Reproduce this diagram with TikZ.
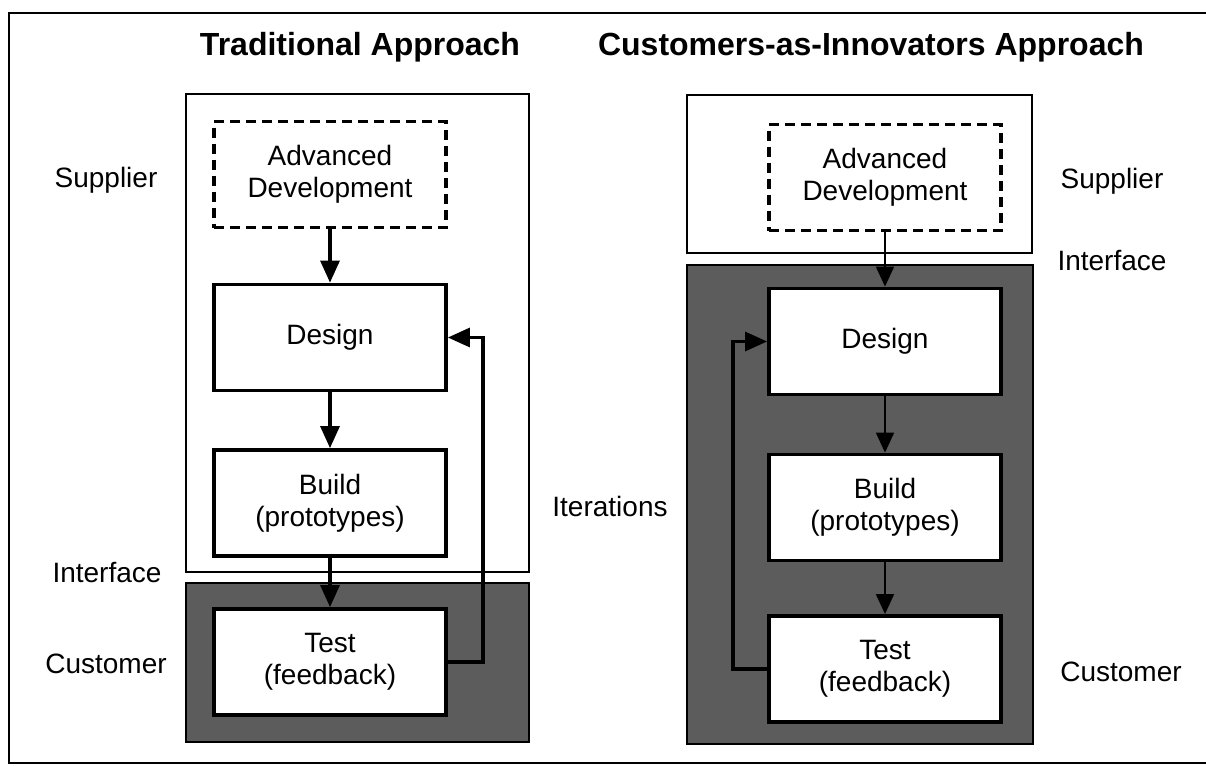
\documentclass[tikz,border=0pt]{standalone}
\usepackage{fontspec}
\setmainfont{Liberation Sans}
\usetikzlibrary{arrows.meta}

\begin{document}
\begin{tikzpicture}[
    x=0.5pt, y=-0.5pt,
    every node/.style={font=\fontsize{14}{16}\selectfont, align=center},
    stage/.style={draw, line width=1.9pt, fill=white,
        minimum width=116pt, minimum height=53pt, inner sep=0pt},
    approach title/.style={font=\fontsize{16}{19}\selectfont\bfseries, anchor=base},
    side label/.style={anchor=base},
    supplier zone/.style={draw, line width=1.1pt, fill=white},
    customer zone/.style={draw, line width=1.3pt, fill=black!64},
    flow/.style={-{Triangle[length=11pt,width=9.5pt]}, line width=1.6pt},
    thin flow/.style={-{Triangle[length=10pt,width=9pt]}, line width=0.9pt},
    ]
    \useasboundingbox (0,0) rectangle (1206,766);
    \draw[line width=1pt] (1206,13) -- (9,13) -- (9,763) -- (1206,763); % frame

    % traditional approach
    \node[approach title] (titleL) at (360,55) {Traditional Approach};
    \draw[supplier zone] (186,94) rectangle (529,572);
    \draw[customer zone] (186,583) rectangle (529,742);
    \node[side label] (supL) at (106,187) {Supplier};
    \node[side label] (intL) at (107,582) {Interface};
    \node[side label] (cusL) at (106,673) {Customer};
    \node[stage, dashed, dash pattern=on 5pt off 3pt] (advL) at (330,174.5) {Advanced\\Development};
    \node[stage] (desL) at (330,337.5) {Design};
    \node[stage] (bldL) at (330,503) {Build\\(prototypes)};
    \node[stage] (tstL) at (330,662) {Test\\(feedback)};
    \coordinate (fbL) at (483,0);
    \draw[flow] (advL) -- (desL);
    \draw[flow] (desL) -- (bldL);
    \draw[flow] (bldL) -- (tstL);
    \draw[flow] (tstL.east) -- (tstL.east -| fbL) -- (fbL |- desL.east) -- (desL.east);

    % customers-as-innovators approach
    \node[approach title] (titleR) at (871,55) {Customers-as-Innovators Approach};
    \draw[supplier zone] (687,95) rectangle (1032,253);
    \draw[customer zone] (687,265) rectangle (1033,744);
    \node[side label] (supR) at (1112,188) {Supplier};
    \node[side label] (intR) at (1112,270) {Interface};
    \node[side label] (itR) at (610,516) {Iterations};
    \node[side label] (cusR) at (1121,681) {Customer};
    \node[stage, dashed, dash pattern=on 5pt off 3pt] (advR) at (885,177.5) {Advanced\\Development};
    \node[stage] (desR) at (885,341.5) {Design};
    \node[stage] (bldR) at (885,507.5) {Build\\(prototypes)};
    \node[stage] (tstR) at (885,669) {Test\\(feedback)};
    \coordinate (fbR) at (733,0);
    \draw[thin flow] (advR) -- (desR);
    \draw[thin flow] (desR) -- (bldR);
    \draw[thin flow] (bldR) -- (tstR);
    \draw[flow] (tstR.west) -- (tstR.west -| fbR) -- (fbR |- desR.west) -- (desR.west);
\end{tikzpicture}
\end{document}
